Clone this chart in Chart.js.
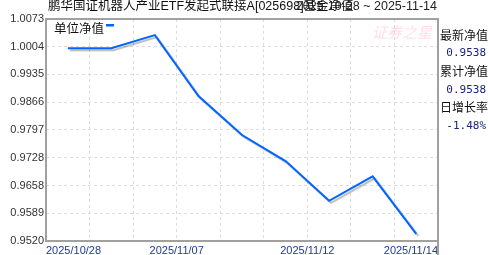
<!DOCTYPE html>
<html>
<head>
<meta charset="utf-8">
<script src="https://cdn.jsdelivr.net/npm/chart.js@4"></script>
<style>
  html, body { margin: 0; padding: 0; background: #fff; }
  #wrap { width: 488px; height: 255px; position: relative; }
</style>
</head>
<body>
<div id="wrap"><canvas id="nav"></canvas></div>
<script>
// fund NAV
const fundTitle = "鹏华国证机器人产业ETF发起式联接A[025698]基金净值";
const dateRange = "2025-10-28 ~ 2025-11-14";
const navDates = ["2025/10/28", "2025/10/31", "2025/11/06", "2025/11/07", "2025/11/10", "2025/11/11", "2025/11/12", "2025/11/13", "2025/11/14"];
const navValues = [1.0000, 1.0000, 1.0033, 0.9881, 0.9784, 0.9719, 0.9620, 0.9681, 0.9538];
const yTicks = [0.9520, 0.9589, 0.9658, 0.9728, 0.9797, 0.9866, 0.9935, 1.0004, 1.0073];
// labels sit on the band boundaries (10 of them for 9 points)
const xTickLabels = ["2025/10/28", "", "", "2025/11/07", "", "", "2025/11/12", "", "", "2025/11/14"];
const sidePanel = [
  ["最新净值", "0.9538"],
  ["累计净值", "0.9538"],
  ["日增长率", "-1.48%"],
];

const LATIN = "'Liberation Sans', 'Noto Sans CJK SC', sans-serif";
const CJK = "'Noto Sans CJK SC', 'Liberation Sans', sans-serif";
const lineBlue = "#0066ff";

const points = navValues.map((v, i) => ({ x: i, y: v }));

// title, legend, frame and right panel
const extras = {
  id: "extras",
  beforeDatasetsDraw(chart) {
    const ctx = chart.ctx;
    ctx.save();
    ctx.shadowColor = "rgba(0,0,0,0.28)";
    ctx.shadowOffsetX = 2;
    ctx.shadowOffsetY = 2;
    ctx.shadowBlur = 1;
  },
  afterDatasetsDraw(chart) {
    chart.ctx.restore();
  },
  afterDraw(chart) {
    const { ctx, chartArea: a } = chart;
    ctx.save();
    // frame
    ctx.strokeStyle = "#a0a0a0";
    ctx.lineWidth = 2;
    ctx.strokeRect(a.left, a.top, a.right - a.left, a.bottom - a.top);
    ctx.beginPath();
    ctx.moveTo(a.right, a.bottom);
    ctx.lineTo(a.right, chart.height);
    ctx.stroke();

    // watermark
    ctx.fillStyle = "rgba(255,120,140,0.25)";
    ctx.font = "italic 15px " + CJK;
    ctx.textAlign = "right";
    ctx.textBaseline = "middle";
    ctx.fillText("证券之星", a.right - 6, 32);

    // title + date range (they overlap in the original too)
    ctx.fillStyle = "#111";
    ctx.font = "12.5px " + LATIN;
    ctx.textAlign = "left";
    ctx.fillText(fundTitle, 48, 7);
    ctx.textAlign = "right";
    ctx.fillStyle = "#222";
    ctx.font = "12.5px " + LATIN;
    ctx.fillText(dateRange, 437, 7);

    // legend
    const ds = chart.data.datasets[0];
    ctx.textAlign = "left";
    ctx.fillStyle = "#111";
    ctx.font = "12.5px " + CJK;
    ctx.fillText(ds.label, a.left + 8, a.top + 9);
    const w = ctx.measureText(ds.label).width;
    ctx.fillStyle = ds.borderColor;
    ctx.fillRect(a.left + 10 + w, a.top + 5, 8, 2.5);

    // right panel
    let y = 35;
    sidePanel.forEach(([label, val]) => {
      ctx.textAlign = "left";
      ctx.fillStyle = "#111";
      ctx.font = "12px " + CJK;
      ctx.fillText(label, 440, y);
      ctx.textAlign = "right";
      ctx.fillStyle = "#1a237e";
      ctx.font = "11px 'DejaVu Sans Mono', monospace";
      ctx.fillText(val, 486, y + 18.5);
      y += 36.3;
    });
    ctx.restore();
  },
};

new Chart(document.getElementById("nav"), {
  type: "line",
  data: {
    datasets: [
      {
        label: "单位净值",
        data: points,
        borderColor: lineBlue,
        borderWidth: 2,
        pointRadius: 0,
        tension: 0,
        fill: false,
      },
    ],
  },
  options: {
    responsive: true,
    maintainAspectRatio: false,
    animation: false,
    layout: { padding: { top: 19, right: 50, left: 0, bottom: 0 } },
    plugins: {
      legend: { display: false },
      tooltip: { enabled: false },
    },
    scales: {
      x: {
        type: "linear",
        min: -0.5,
        max: navDates.length - 0.5,
        afterBuildTicks: (axis) => {
          axis.ticks = xTickLabels.map((_, k) => ({ value: k - 0.5 }));
        },
        afterFit: (axis) => {
          axis.height = 14;
        },
        grid: {
          color: "#dddddd",
          tickLength: 0,
          drawTicks: false,
        },
        border: { display: false, dash: [3, 3] },
        ticks: {
          autoSkip: false,
          maxRotation: 0,
          align: "inner",
          padding: 3,
          color: "#1f3c96",
          font: { family: LATIN, size: 11 },
          callback: (v, i) => xTickLabels[i],
        },
      },
      y: {
        min: yTicks[0],
        max: yTicks[yTicks.length - 1],
        afterBuildTicks: (axis) => {
          axis.ticks = yTicks.map((v) => ({ value: v }));
        },
        afterFit: (axis) => {
          axis.width = 46;
        },
        grid: {
          color: "#dddddd",
          drawTicks: false,
        },
        border: { display: false, dash: [3, 3] },
        ticks: {
          padding: 2,
          color: "#333",
          font: { family: LATIN, size: 11 },
          callback: (v) => Number(v).toFixed(4),
        },
      },
    },
  },
  plugins: [extras],
});
</script>
</body>
</html>
